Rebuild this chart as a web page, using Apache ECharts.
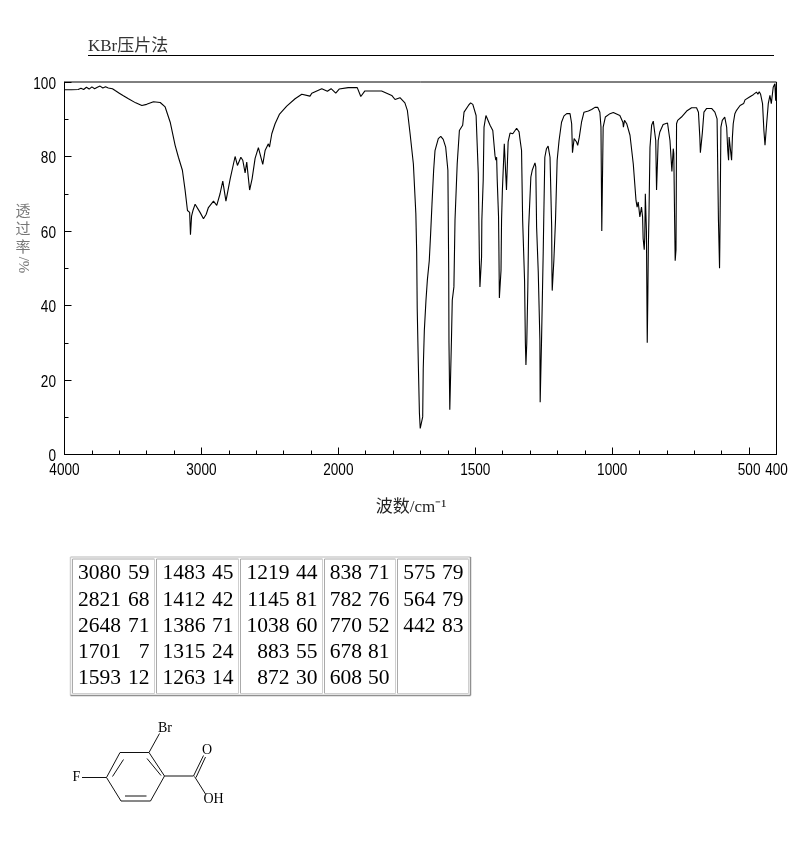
<!DOCTYPE html>
<html>
<head>
<meta charset="utf-8">
<style>html,body{margin:0;padding:0;background:#fff}#c{width:794px;height:850px}</style>
<script src="https://cdn.jsdelivr.net/npm/echarts@6/dist/echarts.min.js"></script>
</head>
<body>
<div id="c"></div>
<script>
// ---- data: [wavenumber cm-1, %T] ----
const spectrumBaseline = [[4000,97.9],[3950,97.9],[3900,98],[3880,98.3],[3860,98],[3840,98.6],[3820,98.1],[3800,98.7],[3780,98.2],[3760,98.6],[3740,98.9],[3720,98.4],[3700,98.7],[3680,98.4],[3650,98.2],[3630,97.7],[3600,97],[3570,96.3],[3533,95.5],[3480,94.4],[3435,93.7],[3400,94],[3350,94.7],[3301,94.5],[3265,93.3],[3228,89.2],[3192,83],[3168,79.8],[3139,76.3],[3119,70.9],[3102,65.5],[3095,66],[3086,65],[3080,59],[3072,64],[3062,65.5],[3046,67.2],[3034,67.2],[3010,65],[2985,63.3],[2965,64.5],[2949,66.3],[2912,68],[2888,66.9],[2864,70],[2844,73.4],[2834,73.1],[2821,68],[2812,68.5],[2790,74],[2754,80],[2737,77.6],[2712,79.8],[2698,79],[2681,75.6],[2669,78.5],[2648,71],[2630,74],[2608,79.5],[2584,82.4],[2570,82],[2552,77.9],[2535,81.6],[2511,83.4],[2503,82.5],[2486,86.1],[2462,88.8],[2431,91.3],[2377,93.5],[2316,95.5],[2267,96.7],[2207,96.2],[2194,97],[2121,98.2],[2080,97.5],[2053,98.2],[2019,97],[1997,98.1],[1964,98.5],[1931,98.5],[1918,96.1],[1903,97.6],[1872,97.6],[1842,97.6],[1805,96.4],[1793,95.3],[1775,95.8],[1757,94.4]];
const spectrumCarbonyl = [[1748,92.4],[1738,86.1],[1726,78],[1717,64.7],[1714,54.4],[1712,39.2],[1708,24.4],[1704,11.2],[1701,7],[1692,10.1],[1690,23],[1686,33.3],[1680,41.4],[1675,46.8],[1668,52],[1663,59.3],[1658,67.3],[1652,76.3],[1647,81.6],[1635,84.8],[1626,85.4],[1617,84.6],[1608,82.5],[1602,82.2],[1600,76.3],[1597,49.4],[1596,30],[1593,12],[1587,30.7],[1584,41.4],[1578,45],[1574,62.9],[1566,78],[1558,87],[1546,88.4],[1541,91.9],[1525,93.7],[1517,94.4],[1509,94],[1497,91],[1489,75.4],[1485,52.6],[1483,45],[1477,53],[1476,62.9],[1471,73.6],[1468,87.9],[1461,91],[1456,91.2],[1446,88.4],[1436,87],[1428,80.3],[1425,79],[1422,79.8],[1420,74],[1417,74],[1415,63.8],[1414,57.5],[1412,42],[1406,49.4],[1404,62.9],[1401,70.9],[1394,83.4],[1388,83.4],[1386,71],[1380,83.9],[1373,86.3],[1363,86.1],[1349,87.6],[1340,86.6],[1337,84.8],[1331,81.6],[1327,62.9],[1320,46.8],[1317,29.9],[1315,24],[1312,29.8],[1308,45],[1305,61],[1297,74.5],[1292,76.3],[1282,78.3],[1279,77.2],[1276,61],[1270,49],[1264,30.7],[1263,14],[1258,30.7],[1252,53.9],[1250,62.9],[1246,79.8],[1240,82.1],[1234,82.8],[1227,79.8],[1221,61],[1220,49],[1219,44],[1213,52.1],[1207,62.9],[1201,79],[1194,84.3]];
const spectrumFingerprint = [[1185,89.2],[1176,90.9],[1166,91.5],[1154,91.5],[1148,88.8],[1145,81],[1139,84.8],[1130,83.9],[1126,83],[1120,85.2],[1112,89.2],[1103,91.9],[1087,92.2],[1075,92.6],[1063,93.2],[1053,93.2],[1045,91.9],[1041,87.9],[1038,60],[1033,87.9],[1025,90.6],[1008,91.5],[996,91.8],[972,91],[961,89.2],[959,87.9],[955,89.7],[947,88.8],[935,85.7],[923,78],[913,68.2],[909,66.4],[905,67.8],[899,63.8],[893,66.4],[889,63.8],[887,58],[883,55],[881,58.4],[879,70],[877,70.5],[875,60],[872,30],[870,41.4],[868,55.7],[866,62.9],[862,82.5],[856,88.4],[850,89.5],[844,89.5],[841,84.3],[838,71],[832,84.3],[826,86.6],[814,88.6],[798,89],[789,84.3],[782,76],[777,82.1],[775,80.8],[772,62.9],[770,52],[767,55],[766,70],[765,88.8],[761,89.7],[747,90.6],[728,92.2],[710,93.1],[692,93.1],[685,91.9],[680,85.2],[678,81],[671,86.2],[665,91.9],[655,92.9],[637,92.9],[625,91.9],[617,90.1],[612,62.9],[610,56.6],[608,50],[607,56],[606,62.9],[603,87.9],[598,89.7],[589,90.6],[582,87.9],[578,81.6],[575,79],[573,85.2],[570,85.2],[567,85.6],[564,79],[561,85.2],[558,88.8],[552,91.5],[546,92.4],[533,93.7],[520,94.2],[515,95.2],[509,95],[500,95.9],[495,95.6],[485,96.6],[480,96.4],[473,97.3],[468,96.7],[463,97.4],[458,96.7],[451,94.2],[446,87],[442,83],[436,88.8],[430,94.2],[424,96.4],[419,94.2],[412,98.6],[406,99.5],[403,95],[400,100]];
const xMajorLabels = [4000,3000,2000,1500,1000,500,400];
const yMajorLabels = [0,20,40,60,80,100];
const xMinorTicksHigh = [3800,3600,3400,3200,2800,2600,2400,2200];
const xMinorTicksLow = [1900,1800,1700,1600,1400,1300,1200,1100,900,800,700,600];
const peakColumns = [
  [['3080','59'],['2821','68'],['2648','71'],['1701','7'],['1593','12']],
  [['1483','45'],['1412','42'],['1386','71'],['1315','24'],['1263','14']],
  [['1219','44'],['1145','81'],['1038','60'],['883','55'],['872','30']],
  [['838','71'],['782','76'],['770','52'],['678','81'],['608','50']],
  [['575','79'],['564','79'],['442','83']]
];
const titleText = 'KBr压片法';
const xTitle = '波数/cm⁻¹';
const yTitleChars = ['透','过','率'];

// the instrument's x scale doubles below 2000 cm-1
const toAxis = w => w >= 2000 ? 4000 - w : 2000 + (2000 - w) * 2;
const lineData = spectrumBaseline.concat(spectrumCarbonyl, spectrumFingerprint).map(p => [toAxis(p[0]), p[1]]);
const majorU = xMajorLabels.slice(0,-1).map(toAxis);
const minorU = xMinorTicksHigh.concat(xMinorTicksLow).map(toAxis);

const SANS = '"Liberation Sans",sans-serif';
const SERIF = '"Liberation Serif","Noto Sans CJK SC",serif';
const CJK = '"Liberation Serif","Noto Sans CJK SC",serif';

// ---- decorations ----
const g = [];
const line = (x1,y1,x2,y2,color,w) => g.push({type:'line',silent:true,shape:{x1,y1,x2,y2},style:{stroke:color||'#000',lineWidth:w||1}});
const text = (x,y,t,o) => g.push(Object.assign({type:'text',silent:true,x,y,rotation:(o&&o.rot)||0,style:Object.assign({text:t,fill:'#000',align:'center',verticalAlign:'middle',font:'13px '+CJK},o&&o.style)},o&&o.el));

text(88,47,titleText,{style:{align:'left',font:'17px '+CJK,fill:'#333'}});
line(88,55.5,774,55.5,'#000',1);
text(411,508,xTitle,{style:{font:'17px '+CJK,fill:'#222'}});
yTitleChars.forEach((c,i)=>text(23,212+i*18,c,{style:{font:'15px '+CJK,fill:'#777'}}));
text(23,265,'/%',{rot:-Math.PI/2,style:{font:'15px '+CJK,fill:'#777'}});

// peak table
const cells = [[72.5,154.5],[156.5,238.5],[240.5,322.5],[324.5,395.5],[397.5,468.5]];
const numRight = [121,205.5,289.5,362,435.5];
const valRight = [149.5,233.5,317.5,389.5,463.5];
const rowY = [573,600,626,652,678];
const bevel = (x1,y1,x2,y2,tl,br,w) => {line(x1,y1,x2,y1,tl,w);line(x1,y1,x1,y2,tl,w);line(x1,y2,x2,y2,br,w);line(x2,y1,x2,y2,br,w);};
bevel(70.5,557,470.5,695.5,'#cfcfcf','#909090',1.5);
cells.forEach((c,i)=>{
  bevel(c[0],559,c[1],693.5,'#aaa','#cfcfcf',1);
  peakColumns[i].forEach((r,j)=>{
    text(numRight[i],rowY[j],r[0],{style:{align:'right',font:'21.5px '+SERIF}});
    text(valRight[i],rowY[j],r[1],{style:{align:'right',font:'21.5px '+SERIF}});
  });
});

// structure of 2-bromo-4-fluorobenzoic acid
[[120,752.5,149,752.5],[149,752.5,164.5,776],[164.5,776,150.5,801],[150.5,801,121,801],[121,801,106.5,777.5],[106.5,777.5,120,752.5],
 [147,758.5,161,775.5],[125,796,146.5,796],[123.5,759.5,112.5,776.5],
 [149,752.5,159.5,733.5],[106.5,777.5,82,777.5],[164.5,776,193.5,776],
 [193.5,776,203.5,755.5],[196,777.5,205.5,757],[194.5,776.5,205.5,794]
].forEach(s=>line(s[0],s[1],s[2],s[3],'#111',1));
text(165,728,'Br',{style:{font:'14px '+SERIF}});
text(76.5,777,'F',{style:{font:'14px '+SERIF}});
text(207,750,'O',{style:{font:'14px '+SERIF}});
text(213.5,799.5,'OH',{style:{font:'14px '+SERIF}});

const chart = echarts.init(document.getElementById('c'),null,{renderer:'canvas'});
chart.setOption({
  animation:false,
  backgroundColor:'#fff',
  grid:{left:64.5,top:82,width:712,height:372.5,show:true,borderColor:'#000',borderWidth:1,backgroundColor:'transparent'},
  xAxis:[
    {type:'value',min:0,max:5200,position:'bottom',
      axisLine:{lineStyle:{color:'#000'}},
      axisTick:{inside:true,length:7,lineStyle:{color:'#000'},customValues:majorU},
      axisLabel:{show:false},
      splitLine:{show:false}},
    {type:'value',min:0,max:5200,position:'bottom',
      axisLine:{show:false},
      axisTick:{inside:true,length:4,lineStyle:{color:'#000'},customValues:minorU},
      axisLabel:{show:false},
      splitLine:{show:false}}
  ],
  yAxis:{type:'value',min:0,max:100,interval:20,
    axisLine:{show:true,lineStyle:{color:'#000'}},
    axisTick:{show:true,inside:true,length:7,lineStyle:{color:'#000'}},
    minorTick:{show:true,splitNumber:2,length:4,lineStyle:{color:'#000'}},
    axisLabel:{show:false},
    splitLine:{show:false}},
  series:[{type:'line',data:lineData,showSymbol:false,smooth:false,clip:false,lineStyle:{color:'#000',width:1.1},silent:true}]
});

// narrow tick labels: placed through the axes' own scales, squeezed horizontally like the reference's font
const tickFont = '17px ' + SANS;
xMajorLabels.forEach(w=>{
  const px = chart.convertToPixel({xAxisIndex:0}, toAxis(w));
  text(px, 470, String(w), {style:{font:tickFont}, el:{scaleX:0.8}});
});
yMajorLabels.forEach(v=>{
  const py = chart.convertToPixel({yAxisIndex:0}, v);
  text(56, py+2, String(v), {style:{align:'right',font:tickFont}, el:{scaleX:0.8}});
});
chart.setOption({graphic:{elements:g}});
</script>
</body>
</html>
